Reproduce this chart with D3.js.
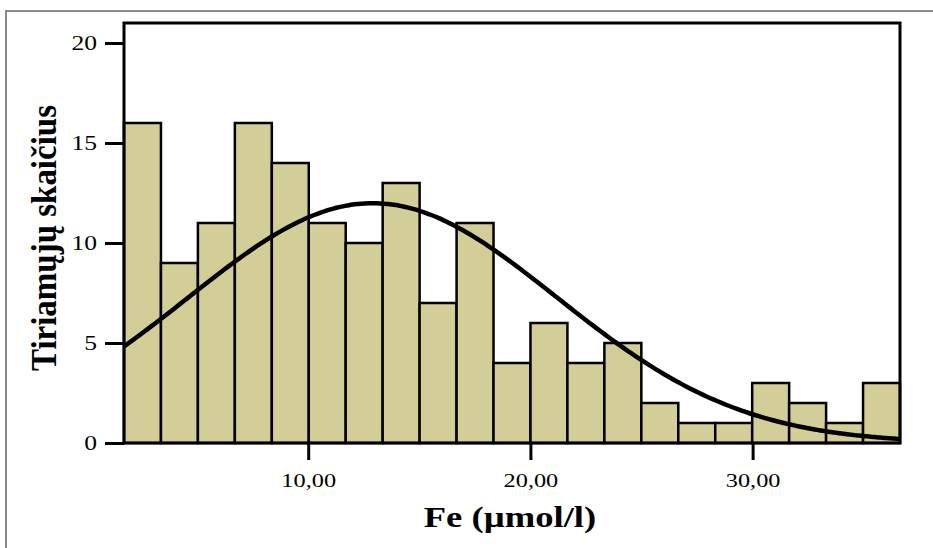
<!DOCTYPE html>
<html>
<head>
<meta charset="utf-8">
<script src="https://cdn.jsdelivr.net/npm/d3@7"></script>
<style>
  body { margin: 0; background: #fff; }
  text { font-family: "Liberation Serif", "Times New Roman", serif; fill: #000; }
</style>
</head>
<body>
<div id="chart"></div>
<script>
// histogram counts, 21 equal bins
const counts = [16, 9, 11, 16, 14, 11, 10, 13, 7, 11, 4, 6, 4, 5, 2, 1, 1, 3, 2, 1, 3];
const binStart = 1.71;
const binWidth = 1.663;
const xTicks = [10, 20, 30];
const yTicks = [0, 5, 10, 15, 20];
// fitted normal curve
const fitMean = 12.9, fitSd = 8.3, fitN = 150;

const W = 933, H = 548;
const plot = {left: 124, right: 900, top: 23, bottom: 443};
const stretch = 1.28; // the original text is a bit wider than tall

const svg = d3.select("#chart").append("svg")
    .attr("width", W)
    .attr("height", H);

svg.append("rect").attr("width", W).attr("height", H).attr("fill", "#fff");

// outer frame
svg.append("rect")
    .attr("x", 6).attr("y", 11)
    .attr("width", W + 20).attr("height", H + 20)
    .attr("fill", "none")
    .attr("stroke", "#666")
    .attr("stroke-width", 1.5);

const xMax = binStart + binWidth * counts.length;
const x = d3.scaleLinear().domain([binStart, xMax]).range([plot.left, plot.right]);
const y = d3.scaleLinear().domain([0, 21]).range([plot.bottom, plot.top]);

const bins = counts.map((c, i) => ({x0: binStart + i * binWidth, x1: binStart + (i + 1) * binWidth, n: c}));

svg.append("g").selectAll("rect")
    .data(bins)
    .join("rect")
    .attr("x", d => x(d.x0))
    .attr("y", d => y(d.n))
    .attr("width", d => x(d.x1) - x(d.x0))
    .attr("height", d => y(0) - y(d.n))
    .attr("fill", "#d3ce98")
    .attr("stroke", "#000")
    .attr("stroke-width", 2.5);

// normal curve
const pdf = v => Math.exp(-((v - fitMean) ** 2) / (2 * fitSd * fitSd)) / (fitSd * Math.sqrt(2 * Math.PI));
const curvePts = d3.range(0, 201).map(i => {
  const v = binStart + (xMax - binStart) * i / 200;
  return [v, fitN * binWidth * pdf(v)];
});
svg.append("path")
    .datum(curvePts)
    .attr("fill", "none")
    .attr("stroke", "#000")
    .attr("stroke-width", 4.5)
    .attr("d", d3.line().x(d => x(d[0])).y(d => y(d[1])).curve(d3.curveBasis));

// plot frame
svg.append("rect")
    .attr("x", plot.left).attr("y", plot.top)
    .attr("width", plot.right - plot.left)
    .attr("height", plot.bottom - plot.top)
    .attr("fill", "none")
    .attr("stroke", "#000")
    .attr("stroke-width", 3);

const fmt = d3.formatLocale({decimal: ",", thousands: ".", grouping: [3], currency: ["", ""]}).format(".2f");

// y axis
const yAxis = svg.append("g")
    .attr("transform", `translate(${plot.left},0)`)
    .call(d3.axisLeft(y).tickValues(yTicks).tickSize(19).tickFormat(""));
yAxis.select(".domain").remove();
yAxis.selectAll(".tick line").attr("stroke-width", 3);
yAxis.selectAll(".tick").append("text")
    .attr("transform", `translate(-27,0) scale(${stretch},1)`)
    .attr("text-anchor", "end")
    .attr("dy", "0.34em")
    .style("font-size", "20px")
    .text(d => d);

// x axis
const xAxis = svg.append("g")
    .attr("transform", `translate(0,${plot.bottom})`)
    .call(d3.axisBottom(x).tickValues(xTicks).tickSize(17).tickFormat(""));
xAxis.select(".domain").remove();
xAxis.selectAll(".tick line").attr("stroke-width", 3);
xAxis.selectAll(".tick").append("text")
    .attr("transform", `translate(0,44) scale(${stretch},1)`)
    .attr("text-anchor", "middle")
    .style("font-size", "19px")
    .text(d => fmt(d));

// titles
svg.append("text")
    .attr("transform", `translate(510,527) scale(1.22,1)`)
    .attr("text-anchor", "middle")
    .style("font-size", "30px")
    .style("font-weight", "bold")
    .text("Fe (µmol/l)");

svg.append("text")
    .attr("transform", "translate(56,238) rotate(-90)")
    .attr("text-anchor", "middle")
    .attr("textLength", 266)
    .attr("lengthAdjust", "spacingAndGlyphs")
    .style("font-size", "35px")
    .style("font-weight", "bold")
    .text("Tiriamųjų skaičius");
</script>
</body>
</html>
